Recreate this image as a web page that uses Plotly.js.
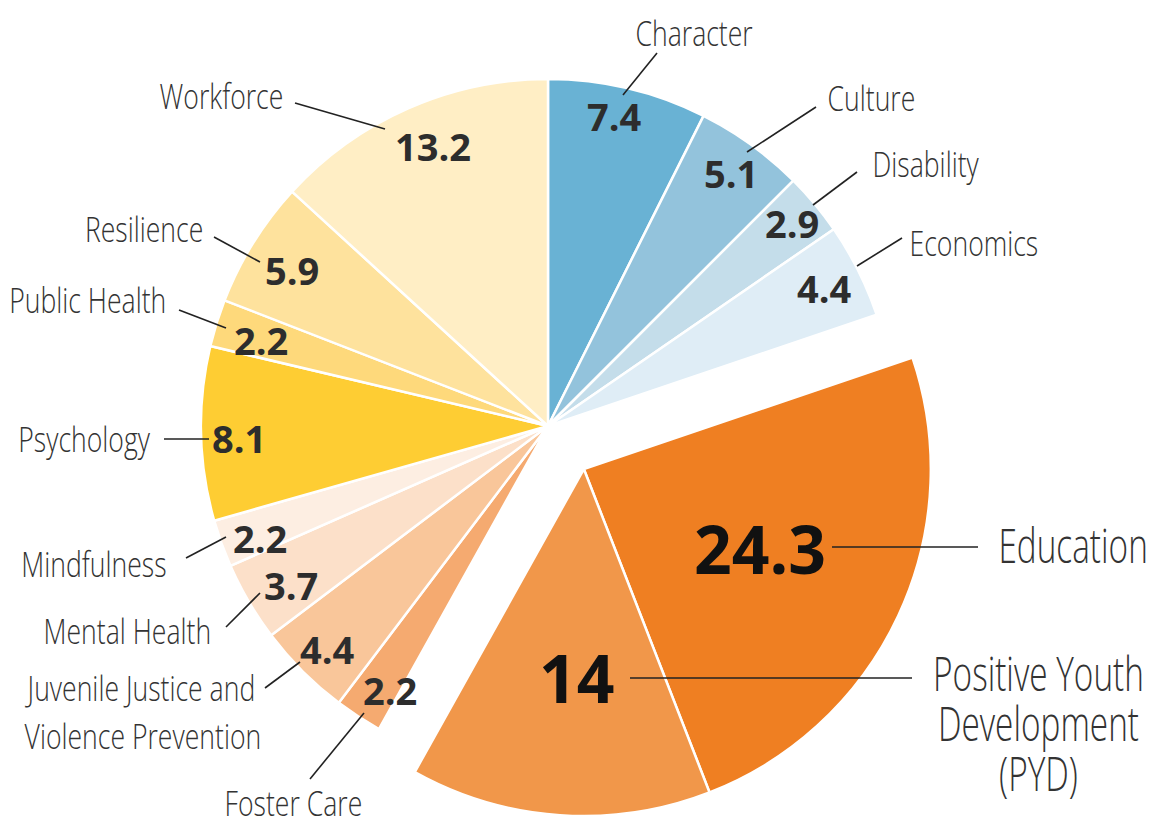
<!DOCTYPE html>
<html><head><meta charset="utf-8">
<script src="https://cdn.plot.ly/plotly-3.0.1.min.js"></script>
<style>html,body{margin:0;padding:0;background:#fff}</style>
</head><body><div id="chart" style="width:1157px;height:820px"></div>
<script>
// ---- data ----
const categories = ['Character','Culture','Disability','Economics','Education',
  'Positive Youth<br>Development<br>(PYD)','Foster Care','Juvenile Justice and<br>Violence Prevention',
  'Mental Health','Mindfulness','Psychology','Public Health','Resilience','Workforce'];
const values = [7.4,5.1,2.9,4.4,24.3,14,2.2,4.4,3.7,2.2,8.1,2.2,5.9,13.2];
const sliceColors = ['#69b2d4','#93c3dc','#c4ddea','#dfedf6','#ef7f22','#f1974a','#f5aa70',
  '#f9c69a','#fce0c9','#fdeee2','#fecd33','#fed97b','#fee29d','#ffeec5'];
const pulledOut = [0,0,0,0,1,1,0,0,0,0,0,0,0,0];

// ---- layout helpers ----
const W = 1157, H = 820;
const CX = 548, CY = 426, R = 347, PULL = 56;
const px = x => x / W, py = y => 1 - y / H;

const total = values.reduce((a,b)=>a+b,0);
const starts = []; let acc = 0;
values.forEach(v => { starts.push(acc); acc += v; });
const midDeg = values.map((v,i) => (starts[i] + v/2) / total * 360);

// group pull direction (mid of pulled group)
const pIdx = pulledOut.map((p,i)=>p?i:-1).filter(i=>i>=0);
const gStart = starts[pIdx[0]], gEnd = starts[pIdx[pIdx.length-1]] + values[pIdx[pIdx.length-1]];
const gDeg = (gStart + gEnd) / 2 / total * 360 * Math.PI/180;
const PCX = CX + PULL*Math.sin(gDeg), PCY = CY - PULL*Math.cos(gDeg);

function dom(cx, cy){ return {x:[px(cx-R), px(cx+R)], y:[py(cy+R), py(cy-R)]}; }

const base = {type:'pie', values:values, labels:categories, sort:false, direction:'clockwise',
  rotation:0, textinfo:'none', hoverinfo:'label+value', showlegend:false};

const trace1 = Object.assign({}, base, {domain:dom(CX,CY),
  marker:{colors:sliceColors.map((c,i)=>pulledOut[i]?'rgba(0,0,0,0)':c),
          line:{color:'#ffffff', width:pulledOut.map(p=>p?0:2.5)}}});
const trace2 = Object.assign({}, base, {domain:dom(PCX,PCY),
  marker:{colors:sliceColors.map((c,i)=>pulledOut[i]?c:'rgba(0,0,0,0)'),
          line:{color:'#ffffff', width:pulledOut.map(p=>p?2.5:0)}}});

// value label polar placement: [radius fraction, angle nudge in degrees]
const valuePlace = [[0.914,-1.3],[0.9,0],[0.914,0],[0.89,0],[0.556,-1],[0.6,-2],[0.888,-2.2],
  [0.903,-0.4],[0.87,-1.3],[0.89,-1.5],[0.89,-0.9],[0.862,-0.6],[0.864,-0.5],[0.873,1.5]];

// category callouts: text anchor (px), alignment, leader line (outer x,y -> inner x,y)
const callouts = [
  {x:694,y:32,a:'center',l:[657,53,623,95]},
  {x:826,y:97,a:'left',l:[816,107,747,152]},
  {x:871,y:164,a:'left',l:[857,172,813,205]},
  {x:908,y:242,a:'left',l:[902,238,857,266]},
  {x:997,y:544,a:'left',l:[978,547,832,547],big:1},
  {x:1038,y:672,a:'center',l:[912,678,630,678],big:1,step:50},
  {x:293,y:802,a:'center',l:[310,779,364,713]},
  {x:23,y:687,a:'left',l:[265,688,300,662],step:48},
  {x:213,y:630,a:'right',l:[226,627,260,593]},
  {x:168,y:563,a:'right',l:[186,558,226,537]},
  {x:152,y:438,a:'right',l:[164,439,209,439]},
  {x:168,y:299,a:'right',l:[179,310,226,328]},
  {x:205,y:228,a:'right',l:[214,237,260,262]},
  {x:285,y:95,a:'right',l:[295,103,385,129]}
];

const LABEL_FAMILY = "'Open Sans', sans-serif";
const annotations = [], shapes = [], condensed = [];
values.forEach((v,i) => {
  const c = pulledOut[i] ? [PCX,PCY] : [CX,CY];
  const [f, dA] = valuePlace[i];
  const a = (midDeg[i] + dA) * Math.PI/180;
  const vx = c[0] + f*R*Math.sin(a), vy = c[1] - f*R*Math.cos(a);
  const big = pulledOut[i];
  annotations.push({xref:'paper',yref:'paper',x:px(vx),y:py(vy),xanchor:'center',yanchor:'middle',
    showarrow:false,text:String(v),
    font:{family:"'Open Sans', sans-serif",weight:700,size:big?66:38,color:big?'#111111':'#2d2d2d'}});
  const co = callouts[i];
  const lines = categories[i].split('<br>');
  const size = co.big ? 48 : 35;
  const step = co.step || size*1.3;
  lines.forEach((t,k) => {
    condensed.push({idx:annotations.length, ax:co.x, s:co.big?0.695:0.76});
    annotations.push({xref:'paper',yref:'paper',x:px(co.x),y:py(co.y + k*step),xanchor:co.a,yanchor:'middle',
      showarrow:false,text:t,font:{family:LABEL_FAMILY,weight:300,size:size,color:'#333333'}});
  });
  shapes.push({type:'line',xref:'paper',yref:'paper',x0:px(co.l[0]),y0:py(co.l[1]),x1:px(co.l[2]),y1:py(co.l[3]),
    line:{color:'#222222',width:1.6}});
});

Plotly.newPlot('chart',[trace1,trace2],{
  width:W,height:H,margin:{l:0,r:0,t:0,b:0},paper_bgcolor:'#ffffff',
  annotations:annotations,shapes:shapes
},{displayModeBar:false,staticPlot:true}).then(gd => {
  // condensed look for category labels (horizontal squeeze around their anchor)
  condensed.forEach(({idx, ax, s}) => {
    const g = gd.querySelector('.annotation[data-index="' + idx + '"]');
    if (g) g.setAttribute('transform', 'translate(' + ax + ',0) scale(' + s + ',1) translate(' + (-ax) + ',0)');
  });
});
</script></body></html>
